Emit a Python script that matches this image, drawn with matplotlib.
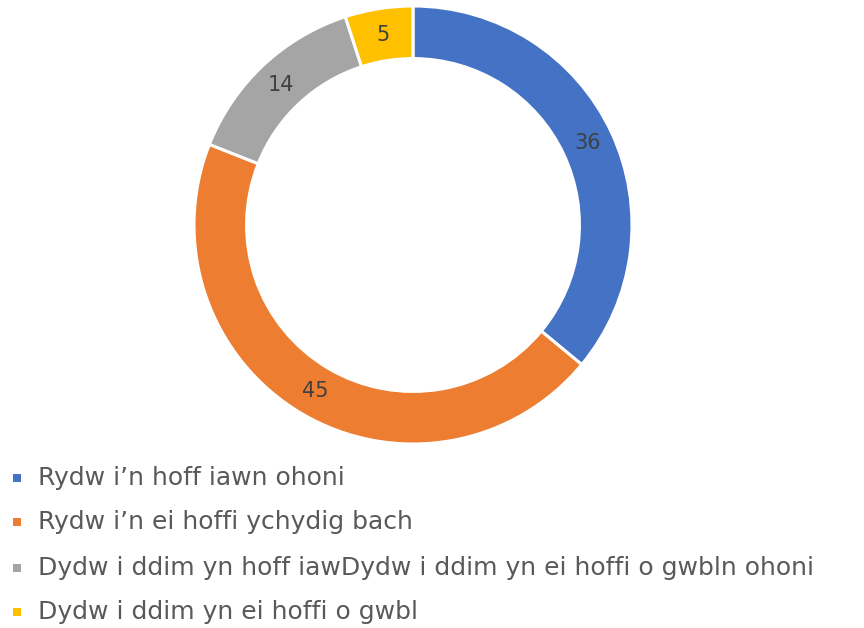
import matplotlib
matplotlib.use("Agg")
import matplotlib.pyplot as plt
from matplotlib.patches import Rectangle

labels = ["Rydw i’n hoff iawn ohoni",
          "Rydw i’n ei hoffi ychydig bach",
          "Dydw i ddim yn hoff iawDydw i ddim yn ei hoffi o gwbln ohoni",
          "Dydw i ddim yn ei hoffi o gwbl"]
values = [36, 45, 14, 5]
colors = ["#4472C4", "#ED7D31", "#A5A5A5", "#FFC000"]

W, H = 864, 628
fig = plt.figure(figsize=(W/100, H/100), dpi=100)
cx, cy, r = 413, 225, 219
ax = fig.add_axes([(cx - r)/W, (H - cy - r)/H, 2*r/W, 2*r/H])
wedges, texts = ax.pie(values, colors=colors, startangle=90, counterclock=False,
                       radius=1, labels=[str(v) for v in values], labeldistance=0.88,
                       wedgeprops=dict(width=0.24, edgecolor="white", linewidth=2.2),
                       textprops=dict(color="#404040", fontsize=15, ha="center", va="center"))
ax.set_xlim(-1, 1)
ax.set_ylim(-1, 1)
ax.set_aspect("equal")
ax.axis("off")

rows = [478, 522, 568, 612]
for lab, col, y in zip(labels, colors, rows):
    fig.patches.append(Rectangle((13/W, (H - y - 4)/H), 8/W, 8/H, transform=fig.transFigure,
                                 facecolor=col, edgecolor="none"))
    fig.text(38/W, (H - y)/H, lab, fontsize=18, color="#595959", va="center", ha="left")

fig.savefig("out.png", dpi=100, facecolor="white")
